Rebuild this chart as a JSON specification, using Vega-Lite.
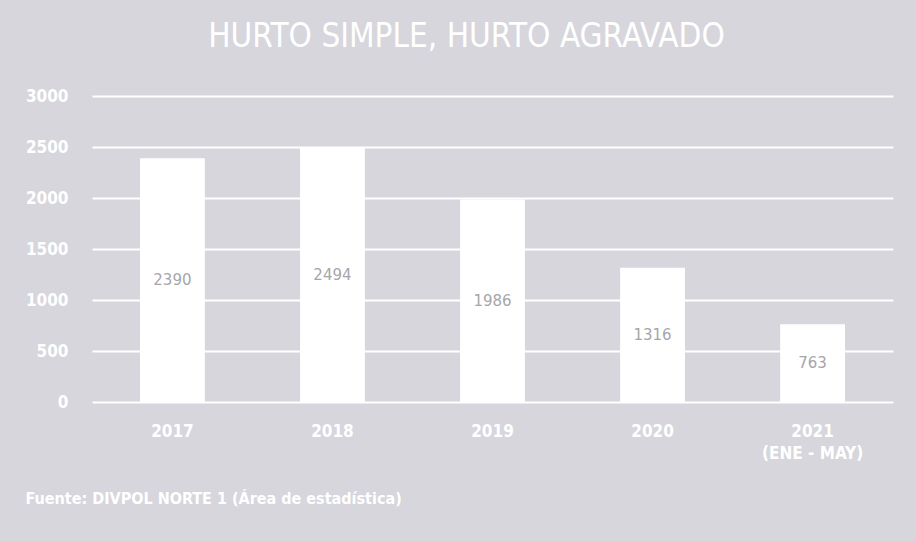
{
  "$schema": "https://vega.github.io/schema/vega-lite/v6.json",
  "autosize": {"type": "none"},
  "width": 801,
  "height": 306,
  "padding": {"left": 92, "top": 96, "right": 23, "bottom": 139},
  "background": "#d6d6dc",
  "title": {
    "text": "HURTO SIMPLE, HURTO AGRAVADO",
    "color": "#ffffff",
    "font": "Liberation Sans Narrow, DejaVu Sans Condensed, sans-serif",
    "fontSize": 33,
    "fontWeight": "normal",
    "anchor": "middle",
    "offset": 33,
    "dx": -26
  },
  "data": {
    "values": [
      {"year": "2017", "value": 2390},
      {"year": "2018", "value": 2494},
      {"year": "2019", "value": 1986},
      {"year": "2020", "value": 1316},
      {"year": "2021|(ENE - MAY)", "value": 763}
    ]
  },
  "config": {
    "view": {"stroke": null},
    "axis": {
      "labelFont": "Liberation Sans Narrow, DejaVu Sans Condensed, sans-serif",
      "labelColor": "#ffffff",
      "labelFontWeight": "bold",
      "labelFontSize": 17,
      "domain": false,
      "ticks": false
    }
  },
  "layer": [
    {
      "mark": {"type": "bar", "color": "#ffffff"},
      "encoding": {
        "x": {
          "field": "year",
          "type": "nominal",
          "sort": null,
          "scale": {"paddingInner": 0.595, "paddingOuter": 0.3},
          "axis": {
            "labelAngle": 0,
            "labelPadding": 21,
            "labelExpr": "split(datum.label, '|')",
            "labelLineHeight": 22,
            "title": "Fuente: DIVPOL NORTE 1 (Área de estadística)",
            "titleFont": "Liberation Sans Narrow, DejaVu Sans Condensed, sans-serif",
            "titleFontSize": 16,
            "titleFontWeight": "bold",
            "titleColor": "#ffffff",
            "titleAnchor": "start",
            "titleAlign": "left",
            "titleBaseline": "middle",
            "titleX": -67,
            "titleY": 96
          }
        },
        "y": {
          "field": "value",
          "type": "quantitative",
          "scale": {"domain": [0, 3000]},
          "axis": {
            "values": [0, 500, 1000, 1500, 2000, 2500, 3000],
            "format": "d",
            "grid": true,
            "gridColor": "#ffffff",
            "gridWidth": 2,
            "gridOpacity": 1,
            "labelPadding": 24,
            "title": null
          }
        }
      }
    },
    {
      "transform": [{"calculate": "datum.value / 2", "as": "mid"}],
      "mark": {
        "type": "text",
        "color": "#a6a6aa",
        "fontSize": 15,
        "font": "DejaVu Sans, sans-serif",
        "fontWeight": "normal"
      },
      "encoding": {
        "x": {"field": "year", "type": "nominal", "sort": null},
        "y": {"field": "mid", "type": "quantitative"},
        "text": {"field": "value", "type": "quantitative"}
      }
    }
  ]
}
